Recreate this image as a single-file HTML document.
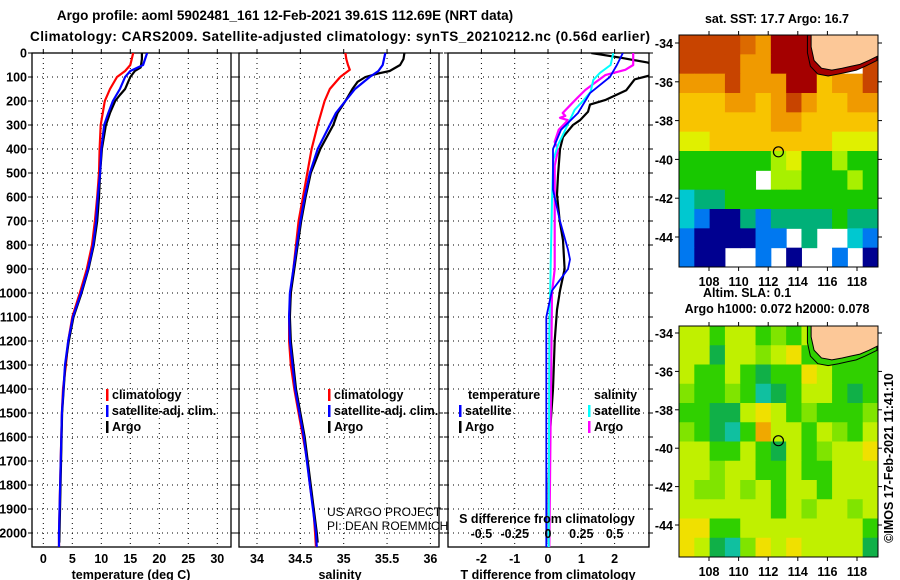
<!DOCTYPE html>
<html><head><meta charset="utf-8">
<style>
html,body{margin:0;padding:0;background:#fff;}
svg{display:block;font-family:"Liberation Sans",Arial,sans-serif;}
.b{font-weight:bold;font-size:12.5px;fill:#000;}
</style></head>
<body>
<svg id="chart" width="900" height="580" viewBox="0 0 900 580">
<text class="b" x="285" y="20" text-anchor="middle" style="font-size:13.5px">Argo profile: aoml 5902481_161 12-Feb-2021 39.61S 112.69E (NRT data)</text>
<text class="b" x="30" y="41" textLength="620" style="font-size:13.5px">Climatology: CARS2009. Satellite-adjusted climatology: synTS_20210212.nc (0.56d earlier)</text>
<g id="g"></g>
</svg>
<script>
// ---------- profile data (depth in m) ----------
const depthTicks = [0,100,200,300,400,500,600,700,800,900,1000,1100,1200,1300,1400,1500,1600,1700,1800,1900,2000];
const tempTicks = [0,5,10,15,20,25,30];
const salTicks = ["34","34.5","35","35.5","36"];
const tdiffTicks = ["-2","-1","0","1","2"];
const sdiffTicks = ["-0.5","-0.25","0","0.25","0.5"];

const tClimDepth = [0,50,75,100,150,200,300,400,500,600,700,800,900,1000,1100,1200,1300,1400,1500,1700,2000,2060];
const tClimVal   = [15.5,15,14.1,12.7,11.5,10.6,9.9,9.7,9.6,9.3,8.9,8.4,7.5,6.3,5,4.3,3.9,3.4,3.2,3,2.7,2.7];
const tSatDepth = [0,50,75,100,150,200,250,300,400,500,600,700,800,900,1000,1100,1200,1300,1500,2000,2060];
const tSatVal   = [17.9,17.2,15,14.1,13.2,12,11.2,10.5,10,9.8,9.4,9.1,8.6,7.7,6.5,5.1,4.3,3.75,3.2,2.7,2.7];
const tArgoDepth = [0,25,60,75,100,150,175,200,250,300,400,500,600,700,800,900,1000,1100,1200,1300,1500,2040];
const tArgoVal   = [17,17,16.8,15.8,15,14.1,13.2,12.4,11.5,10.8,10.1,9.8,9.6,9.3,8.7,7.8,6.6,5.2,4.4,3.8,3.25,2.75];

const sClimDepth = [0,25,50,70,100,150,200,300,400,500,600,700,800,900,1000,1100,1200,1300,1400,1500,1600,1700,1800,1900,2000,2060];
const sClimVal   = [35.02,35.03,35.05,35.07,34.96,34.84,34.78,34.7,34.63,34.58,34.53,34.48,34.45,34.42,34.39,34.37,34.37,34.39,34.43,34.48,34.53,34.58,34.61,34.65,34.67,34.68];
const sSatDepth = [0,50,75,100,150,200,250,300,400,500,600,700,800,900,1000,1100,1200,1400,1600,2000,2060];
const sSatVal   = [35.48,35.45,35.4,35.3,35.13,35.02,34.91,34.84,34.7,34.61,34.55,34.5,34.46,34.42,34.38,34.37,34.38,34.44,34.54,34.68,34.69];
const sArgoDepth = [0,25,50,75,85,100,120,150,200,250,300,400,500,600,700,800,900,1000,1100,1200,1400,1600,2000,2040];
const sArgoVal   = [35.7,35.69,35.65,35.53,35.4,35.25,35.16,35.1,35.02,34.93,34.88,34.73,34.62,34.56,34.51,34.47,34.43,34.39,34.38,34.39,34.45,34.55,34.69,34.7];

const dTArgoDepth = [0,20,40,60,85,110,155,195,215,245,280,300,350,400,510,590,700,780,900,990,1070,1200,1400,1600,1800,2040];
const dTArgoVal   = [1.3,2.2,3.0,3.3,3.3,2.6,2.35,1.74,1.26,1.2,0.96,0.75,0.45,0.36,0.3,0.27,0.35,0.45,0.5,0.36,0.27,0.2,0.15,0.05,0.02,0.02];
const dTSatDepth = [0,50,100,167,250,320,400,570,700,820,860,900,945,990,1100,1400,2060];
const dTSatVal   = [2.25,2.07,1.86,1.26,0.9,0.39,0.15,0.15,0.36,0.6,0.66,0.6,0.36,0.12,-0.05,-0.05,-0.05];
const dSSatDepth = [0,50,83,112,162,195,237,320,383,445,612,1030,1150,2060];
const dSSatVal   = [0.49,0.47,0.39,0.34,0.32,0.27,0.2,0.13,0.075,0.04,0.03,0.015,0.01,0.005];
const dSArgoDepth = [0,50,70,92,125,154,187,216,250,262,270,280,320,370,404,470,900,1000,1500,2060];
const dSArgoVal   = [0.64,0.64,0.58,0.43,0.35,0.28,0.22,0.17,0.11,0.13,0.09,0.15,0.08,0.05,0.075,0.05,0.05,0.03,0.02,0.01];

// ---------- map data (rows lat -34..-45, cols lon ~106.5..118.5), L = land, N = missing ----------
const L = -9, N = null;
const sstGrid = [
 [5,5,5,5,4.5,4,6,6,6,L,L,L,L],
 [5,5,5,5,4,4,6,6,6,6,L,L,5],
 [4,4,4,5,4,4,4,6,6,3,4,4,5],
 [3,3,3,4,4,3,4,5,4,3,3,4,4],
 [3,3,3,3,3,3,4,4,3,3,3,3,3],
 [2.5,2.5,3,3,3,3,3,3,3,3,2.5,2.5,2.5],
 [1.5,1.5,1.5,1.5,1.5,1.5,2,2.5,1.5,1.5,2,1.5,1.5],
 [1.5,1.5,1.5,1.5,1.5,N,2,2,1.5,1.5,1.5,2,1.5],
 [0.5,1,1,1.5,1.5,1.5,1.5,1.5,1.5,1.5,1.5,1.5,1.5],
 [0.5,0,-1,-1,1,0,1,1,1,1,1.5,1,1],
 [0,-1,-1,-1,-1,0,0,N,1,N,N,0.5,0],
 [0,-1,-1,N,N,0,N,-1,N,N,0,N,-1]
];
const slaGrid = [
 [2,2,1,2,2,1,1.5,1,2,L,L,L,L],
 [2,2,0.5,2,2,1.5,2,2.5,1,1,1,1,1],
 [2,1,1,2,1,0.5,1,1,2.5,2,1,1,1],
 [1.5,1,1,1.5,1,0,0.5,1,2,2,1,0.5,1],
 [1,1,0.5,0.5,2,2.5,2,1,1.5,1,1,1,1.5],
 [1.5,1,0.5,0,1,3,2,2,1,2,1.5,1,2],
 [2,2,1,1,2,1,0.5,2,1,1.5,2,2,2.5],
 [2,2,1.5,2,2,1,1,2,1,1,2,2,2],
 [2,1.5,1.5,2,1.5,2,1,2,2,1,2,2,2],
 [2,2,2,2,2,2,1,2,1.5,2,2,1.5,2],
 [2.5,2.5,1,1,2,2,2,2,2,2,2,2,1],
 [2.5,2,0.5,0,1.5,2.5,2,2.5,2,2,2,2,0.5]
];
const latTicks = [-34,-36,-38,-40,-42,-44];
const lonTicks = [108,110,112,114,116,118];
const argoLon = 112.69, argoLat = -39.61;

// ---------- drawing ----------
const NS='http://www.w3.org/2000/svg';
const G=document.getElementById('g');
function mk(tag,at,parent){const e=document.createElementNS(NS,tag);for(const k in at)e.setAttribute(k,at[k]);(parent||G).appendChild(e);return e;}
function txt(x,y,s,anchor,cls,parent){const t=mk('text',{x:x,y:y,'text-anchor':anchor||'start','class':cls||'b'},parent);t.textContent=s;return t;}

const Y0=53, Y1=547;
const yD = d => Y0 + 0.24*d;
const panels = [
 {x0:32,x1:231,fx:v=>43.3+5.8*v,name:'temperature'},
 {x0:239,x1:439,fx:v=>257+86.7*(v-34),name:'salinity'},
 {x0:448,x1:649,fx:v=>548+33.3*v,name:'tdiff'}
];
const sx3 = v => 548+133.2*v;

const defs=mk('defs',{});
panels.forEach((p,i)=>{
  const cp=mk('clipPath',{id:'cp'+i},defs);
  mk('rect',{x:p.x0,y:Y0,width:p.x1-p.x0,height:Y1-Y0},cp);
});

function axisFrame(p,i,xt,xtl){
  const g=mk('g',{});
  
  
  depthTicks.forEach(d=>{
    const l=mk('line',{x1:p.x0,x2:p.x1,y1:yD(d),y2:yD(d),stroke:'#000','stroke-width':1,'stroke-dasharray':'1,4'},g);
    
    
    mk('line',{x1:p.x0-4,x2:p.x0,y1:yD(d),y2:yD(d),stroke:'#000'},g);
    mk('line',{x1:p.x1,x2:p.x1+4,y1:yD(d),y2:yD(d),stroke:'#000'},g);
  });
  xt.forEach((v,k)=>{
    const x=p.fx(+v);
    const l=mk('line',{x1:x,x2:x,y1:Y0,y2:Y1,stroke:'#000','stroke-dasharray':'1,4'},g);
    
    
    mk('line',{x1:x,x2:x,y1:Y0-4,y2:Y0,stroke:'#000'},g);
    const t=txt(x,563,xtl?xtl[k]:String(v),'middle','b',g);
    
    
  });
  mk('rect',{x:p.x0,y:Y0,width:p.x1-p.x0,height:Y1-Y0,fill:'none',stroke:'#000','stroke-width':1.3},g);
  return g;
}
axisFrame(panels[0],0,tempTicks);
axisFrame(panels[1],1,salTicks);
axisFrame(panels[2],2,tdiffTicks);

depthTicks.forEach(d=>{
  const t=txt(27,yD(d)+4.5,String(d),'end','b');
  
  
});

function line(depths,vals,fx,color,w,clip,name){
  const pts=depths.map((d,k)=>fx(vals[k]).toFixed(1)+','+yD(d).toFixed(1)).join(' ');
  const pl=mk('polyline',{points:pts,fill:'none',stroke:color,'stroke-width':w,'clip-path':'url(#cp'+clip+')','stroke-linejoin':'round'});
  
  
}
const f0=panels[0].fx,f1=panels[1].fx,f2=panels[2].fx;
line(tClimDepth,tClimVal,f0,'#ff0000',2.2,0,'temp-climatology-line');
line(tArgoDepth,tArgoVal,f0,'#000',2.2,0,'temp-argo-line');
line(tSatDepth,tSatVal,f0,'#0000ff',2.2,0,'temp-satellite-line');
line(sClimDepth,sClimVal,f1,'#ff0000',2.2,1,'sal-climatology-line');
line(sArgoDepth,sArgoVal,f1,'#000',2.2,1,'sal-argo-line');
line(sSatDepth,sSatVal,f1,'#0000ff',2.2,1,'sal-satellite-line');
line(dTArgoDepth,dTArgoVal,f2,'#000',2.2,2,'tdiff-argo-line');
line(dSArgoDepth,dSArgoVal,sx3,'#ff00ff',2.2,2,'sdiff-argo-line');
line(dSSatDepth,dSSatVal,sx3,'#00ffff',2,2,'sdiff-satellite-line');
line(dTSatDepth,dTSatVal,f2,'#0000ff',1.8,2,'tdiff-satellite-line');

// legends
function leg(x,y,color,label,name){
  const g=mk('g',{});
  
  
  mk('rect',{x:x,y:y-10,width:2.5,height:12,fill:color},g);
  txt(x+6,y,label,'start','b',g);
}
leg(106,399,'#ff0000','climatology','legend-climatology');
leg(106,415,'#0000ff','satellite-adj. clim.','legend-satellite-adj');
leg(106,431,'#000','Argo','legend-argo');
leg(328,399,'#ff0000','climatology','legend2-climatology');
leg(328,415,'#0000ff','satellite-adj. clim.','legend2-satellite-adj');
leg(328,431,'#000','Argo','legend2-argo');
txt(468,399,'temperature','start','b');
txt(594,399,'salinity','start','b');
leg(459,415,'#0000ff','satellite','legend3-t-satellite');
leg(459,431,'#000','Argo','legend3-t-argo');
leg(588,415,'#00ffff','satellite','legend3-s-satellite');
leg(588,431,'#ff00ff','Argo','legend3-s-argo');

// inner S ticks / labels
const st=txt(547,523,'S difference from climatology','middle','b');


sdiffTicks.forEach(v=>{
  const t=txt(sx3(+v),538,v,'middle','b');
  
  
});
const c1=txt(327,516,'US ARGO PROJECT','start');c1.setAttribute('style','font-size:12px;font-weight:normal');
const c2=txt(327,530,'PI: DEAN ROEMMICH','start');c2.setAttribute('style','font-size:12px;font-weight:normal');

const at1=txt(131,579,'temperature (deg C)','middle','b');


const at2=txt(340,579,'salinity','middle','b');


const at3=txt(548,579,'T difference from climatology','middle','b');



// ---------- maps ----------
const sstColors={'6':'#a40000','5':'#c84400','4.5':'#dc6a00','4':'#f09a00','3':'#f8c400','2.5':'#e0f000','2':'#a8f000','1.5':'#18c800','1':'#00b078','0.5':'#00c8d0','0':'#0078f0','-1':'#000090'};
const slaColors={'3':'#f0a800','2.5':'#f0e000','2':'#c0f000','1.5':'#80e400','1':'#30d000','0.5':'#10b048','0':'#10c0a0'};
function drawMap(grid,colors,mx0,my0,mx1,my1,latY0,latScale,name,landFill,landEdge){
  const g=mk('g',{});
  
  
  const cid='mcp'+name;
  const cp=mk('clipPath',{id:cid},defs);
  mk('rect',{x:mx0,y:my0,width:mx1-mx0,height:my1-my0},cp);
  const cg=mk('g',{'clip-path':'url(#'+cid+')'},g);
  const lonX = lon => 709 + (lon-108)*14.8;
  const latY = lat => latY0 + (-34-lat)*latScale;
  const nr=grid.length,nc=grid[0].length;
  const cw=(mx1-mx0)/nc, ch=(my1-my0)/nr;
  grid.forEach((row,r)=>row.forEach((v,c)=>{
    if(v===null||v===L) return;
    const cell=mk('rect',{x:mx0+c*cw,y:my0+r*ch,width:cw+0.5,height:ch+0.5,fill:colors[String(v)]||'#fff'},cg);
    
    
  }));
  // land
  const land=[[114.9,-33.3],[114.9,-34.2],[115.1,-34.9],[115.6,-35.3],[116.3,-35.4],[117,-35.3],[117.6,-35.2],[118.2,-35.1],[118.8,-34.9],[119.6,-34.6],[119.6,-33.3]];
  const lp=land.map(q=>lonX(q[0])+','+latY(q[1])).join(' ');
  const edge=land.map(q=>lonX(q[0]-0.25)+','+latY(q[1]-0.3)).join(' ');
  mk('polygon',{points:edge+' '+lonX(119.6)+','+latY(-33.3),fill:landEdge,stroke:'#000','stroke-width':1},cg);
  const lpol=mk('polygon',{points:lp,fill:landFill,stroke:'#000','stroke-width':1},cg);
  
  
  const dot=mk('circle',{cx:lonX(argoLon),cy:latY(argoLat),r:5,fill:'none',stroke:'#000','stroke-width':1.2},g);
  
  
  mk('rect',{x:mx0,y:my0,width:mx1-mx0,height:my1-my0,fill:'none',stroke:'#000','stroke-width':1},g);
  latTicks.forEach(lat=>{
    const y=latY(lat);
    mk('line',{x1:mx0-4,x2:mx0,y1:y,y2:y,stroke:'#000'},g);
    mk('line',{x1:mx1,x2:mx1+4,y1:y,y2:y,stroke:'#000'},g);
    const t=txt(673,y+5,String(lat),'end','b',g);
    
    
  });
  lonTicks.forEach(lon=>{
    const x=lonX(lon);
    mk('line',{x1:x,x2:x,y1:my0-4,y2:my0,stroke:'#000'},g);
    mk('line',{x1:x,x2:x,y1:my1,y2:my1+4,stroke:'#000'},g);
    const t=txt(x,my1+19,String(lon),'middle','b',g);
    
    
  });
}
drawMap(sstGrid,sstColors,679,35,878,267,43,19.4,'sst-map','#fcc898','#a40000');
drawMap(slaGrid,slaColors,679,326,878,557,333,19.2,'sla-map','#fcc898','#30d000');

const m1=txt(777,23,'sat. SST: 17.7 Argo: 16.7','middle','b');


const m2=txt(703,297,'Altim. SLA: 0.1','start','b');


const m3=txt(777,313,'Argo h1000: 0.072 h2000: 0.078','middle','b');


const cr=txt(0,0,'©IMOS 17-Feb-2021 11:41:10','middle');
cr.setAttribute('style','font-size:12.5px');
cr.setAttribute('transform','translate(893,458) rotate(-90)');


</script>
</body></html>
